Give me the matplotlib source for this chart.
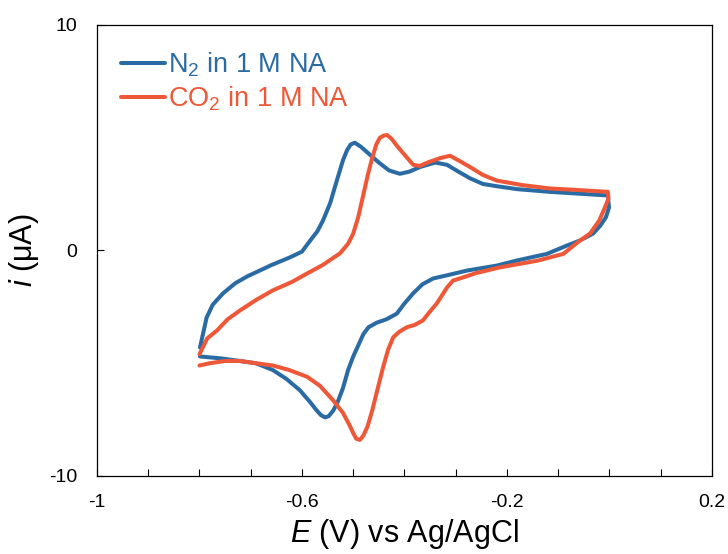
import matplotlib
matplotlib.use("Agg")
import matplotlib.pyplot as plt
from matplotlib.ticker import MultipleLocator, FixedLocator

plt.rcParams['font.family'] = ['Liberation Sans', 'DejaVu Sans']
plt.rcParams['mathtext.fontset'] = 'custom'
plt.rcParams['mathtext.rm'] = 'Liberation Sans'
plt.rcParams['mathtext.it'] = 'Liberation Sans:italic'
plt.rcParams['mathtext.default'] = 'regular'

# N2 in 1 M NA (blue)
e_n2 = [-0.799, -0.786, -0.774, -0.754, -0.730, -0.707, -0.688, -0.660, -0.623, -0.600,
        -0.584, -0.570, -0.559, -0.545, -0.532, -0.520, -0.512, -0.505, -0.497, -0.485,
        -0.470, -0.450, -0.430, -0.409, -0.390, -0.370, -0.340, -0.317, -0.295, -0.272,
        -0.247, -0.220, -0.180, -0.116, -0.060, -0.003,
        -0.001, -0.007, -0.018, -0.032, -0.058, -0.083, -0.122, -0.180, -0.220, -0.278,
        -0.317, -0.344, -0.365, -0.383, -0.400, -0.415, -0.435, -0.454, -0.470, -0.480,
        -0.490, -0.500, -0.510, -0.520, -0.530, -0.539, -0.548, -0.555, -0.563, -0.571,
        -0.585, -0.604, -0.630, -0.657, -0.690, -0.721, -0.760, -0.799]
i_n2 = [-4.30, -2.97, -2.40, -1.90, -1.45, -1.15, -0.95, -0.65, -0.30, -0.05,
        0.44, 0.85, 1.33, 2.10, 3.10, 4.00, 4.45, 4.70, 4.78, 4.60,
        4.30, 3.90, 3.55, 3.40, 3.50, 3.70, 3.90, 3.80, 3.50, 3.20,
        2.95, 2.85, 2.72, 2.60, 2.52, 2.44,
        1.90, 1.47, 1.10, 0.75, 0.44, 0.22, -0.15, -0.44, -0.67, -0.89,
        -1.10, -1.24, -1.50, -1.90, -2.35, -2.80, -3.05, -3.20, -3.40, -3.70,
        -4.20, -4.70, -5.30, -6.10, -6.70, -7.10, -7.35, -7.40, -7.30, -7.10,
        -6.70, -6.20, -5.70, -5.30, -5.00, -4.90, -4.78, -4.70]

# CO2 in 1 M NA (red)
e_co2 = [-0.800, -0.785, -0.766, -0.745, -0.721, -0.690, -0.657, -0.620, -0.590, -0.560,
         -0.526, -0.510, -0.500, -0.490, -0.480, -0.471, -0.463, -0.455, -0.448, -0.440,
         -0.434, -0.425, -0.415, -0.402, -0.383, -0.370, -0.355, -0.330, -0.311, -0.295,
         -0.272, -0.247, -0.220, -0.170, -0.116, -0.060, -0.003,
         -0.002, -0.009, -0.020, -0.038, -0.060, -0.090, -0.140, -0.214, -0.260, -0.292,
         -0.305, -0.317, -0.327, -0.337, -0.350, -0.364, -0.380, -0.395, -0.410, -0.422,
         -0.432, -0.442, -0.452, -0.463, -0.472, -0.480, -0.487, -0.494, -0.500, -0.506,
         -0.520, -0.539, -0.565, -0.590, -0.625, -0.657, -0.690, -0.721, -0.750, -0.780, -0.800]
i_co2 = [-4.60, -3.90, -3.55, -3.05, -2.66, -2.20, -1.77, -1.40, -1.02, -0.65,
         -0.13, 0.30, 0.75, 1.50, 2.50, 3.40, 4.10, 4.70, 5.00, 5.10,
         5.12, 4.95, 4.65, 4.30, 3.80, 3.75, 3.90, 4.10, 4.20, 4.00,
         3.70, 3.35, 3.10, 2.90, 2.75, 2.68, 2.60,
         2.30, 1.90, 1.33, 0.75, 0.40, -0.15, -0.45, -0.75, -1.00, -1.24,
         -1.33, -1.64, -2.00, -2.35, -2.70, -3.10, -3.30, -3.40, -3.60, -3.85,
         -4.40, -5.20, -6.10, -7.10, -7.80, -8.20, -8.40, -8.35, -8.10, -7.80,
         -7.20, -6.65, -6.00, -5.60, -5.30, -5.10, -5.00, -4.90, -4.90, -5.00, -5.10]

labels = [r'N$_2$ in 1 M NA', r'CO$_2$ in 1 M NA']
colors = ['#2b6ba3', '#ee5838']

xticks_major = [-1, -0.6, -0.2, 0.2]
xtick_labels = ['-1', '-0.6', '-0.2', '0.2']
yticks = [-10, 0, 10]
ytick_labels = ['-10', '0', '10']

fig = plt.figure(figsize=(7.28, 5.54), dpi=100)
ax = fig.add_axes([0.1332, 0.1408, 0.978 - 0.1332, 0.9549 - 0.1408])

ax.plot(e_n2, i_n2, color=colors[0], lw=2.9, label=labels[0], solid_capstyle='round', solid_joinstyle='round')
ax.plot(e_co2, i_co2, color=colors[1], lw=2.9, label=labels[1], solid_capstyle='round', solid_joinstyle='round')

ax.set_xlim(-1, 0.2)
ax.set_ylim(-10, 10)
ax.xaxis.set_major_locator(FixedLocator(xticks_major))
ax.set_xticklabels(xtick_labels)
ax.xaxis.set_minor_locator(MultipleLocator(0.1))
ax.set_yticks(yticks)
ax.set_yticklabels(ytick_labels)

ax.tick_params(axis='both', which='both', direction='in', labelsize=14,
               top=False, right=False, width=0.8, length=5, colors='black')
ax.tick_params(axis='x', pad=13)
ax.tick_params(axis='y', pad=14)
for s in ax.spines.values():
    s.set_linewidth(0.9)
    s.set_color('black')

ax.set_xlabel(r'$\mathit{E}$ (V) vs Ag/AgCl', fontsize=22, labelpad=4)
ax.set_ylabel(r'$\mathit{i}$ (μA)', fontsize=22, labelpad=6)

leg = ax.legend(loc='upper left', frameon=False, fontsize=19.5, handlelength=1.6,
                handletextpad=0.1, borderaxespad=0.3, labelspacing=0.2,
                bbox_to_anchor=(0.009, 0.985))
for t, c in zip(leg.get_texts(), colors):
    t.set_color(c)

fig.savefig('out.png', dpi=100)
